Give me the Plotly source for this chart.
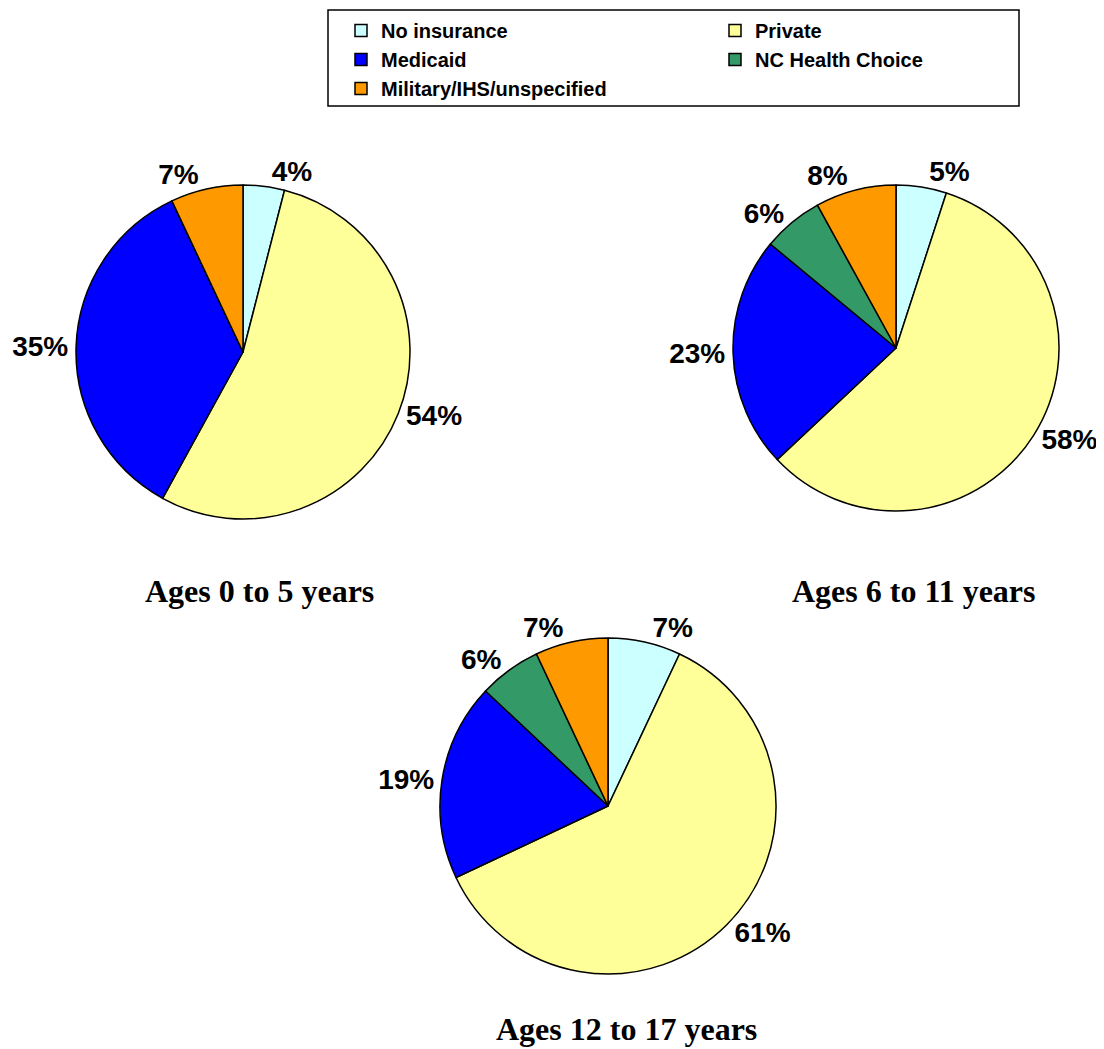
import plotly.graph_objects as go

# page body margin offset (px) applied by the browser around the figure
OFF = 8
W, H = 1104 - OFF, 1049 - OFF

categories = ["No insurance", "Private", "Medicaid", "NC Health Choice", "Military/IHS/unspecified"]
colors = ["#CCFFFF", "#FFFF99", "#0000FF", "#339966", "#FF9900"]

ages_0_5 = [4, 54, 35, 0, 7]
ages_6_11 = [5, 58, 23, 6, 8]
ages_12_17 = [7, 61, 19, 6, 7]

titles = ["Ages 0 to 5 years", "Ages 6 to 11 years", "Ages 12 to 17 years"]

# pie layout in screen pixels (centre x, centre y, radius)
pie_geom = [(243, 352, 167), (896, 348, 163), (608, 806, 168)]
title_pos = [(259, 591, "middle"), (914, 591, "middle"), (626, 1049, "bottom")]


def px(x):
    return (x - OFF) / W


def py(y):
    return 1 - (y - OFF) / H


def dom(cx, cy, r):
    return dict(x=[px(cx - r), px(cx + r)], y=[py(cy + r), py(cy - r)])


fig = go.Figure()
for i, vals in enumerate([ages_0_5, ages_6_11, ages_12_17]):
    cx, cy, r = pie_geom[i]
    fig.add_trace(go.Pie(
        labels=categories,
        values=vals,
        sort=False,
        direction="clockwise",
        rotation=0,
        domain=dom(cx, cy, r),
        marker=dict(colors=colors, line=dict(color="black", width=1.5)),
        textposition="outside",
        texttemplate=["%{percent:.0%}" if v > 0 else "" for v in vals],
        textfont=dict(family="Liberation Sans, Arial, sans-serif", size=28,
                      color="black", weight="bold"),
        showlegend=(i == 1),
        hoverinfo="label+percent",
        name=titles[i],
    ))

for (tx, ty, ya), t in zip(title_pos, titles):
    fig.add_annotation(
        x=px(tx), y=py(ty), xref="paper", yref="paper",
        text=t, showarrow=False,
        xanchor="center", yanchor=ya,
        font=dict(family="Liberation Serif, Times New Roman, serif", size=32,
                  color="black", weight="bold"),
    )

# legend frame
fig.add_shape(type="rect", xref="paper", yref="paper",
              x0=px(328), x1=px(1019), y0=py(106), y1=py(10),
              line=dict(color="black", width=1.5), fillcolor="rgba(0,0,0,0)")

fig.update_layout(
    width=W, height=H,
    margin=dict(l=0, r=0, t=0, b=0),
    paper_bgcolor="white",
    plot_bgcolor="white",
    legend=dict(
        orientation="h",
        x=px(341), xanchor="left",
        y=py(11), yanchor="top",
        entrywidth=329, entrywidthmode="pixels",
        font=dict(family="Liberation Sans, Arial, sans-serif", size=20,
                  color="black", weight="bold"),
        bgcolor="rgba(0,0,0,0)",
        borderwidth=0,
        traceorder="normal",
    ),
)

fig.write_html("out.html")
